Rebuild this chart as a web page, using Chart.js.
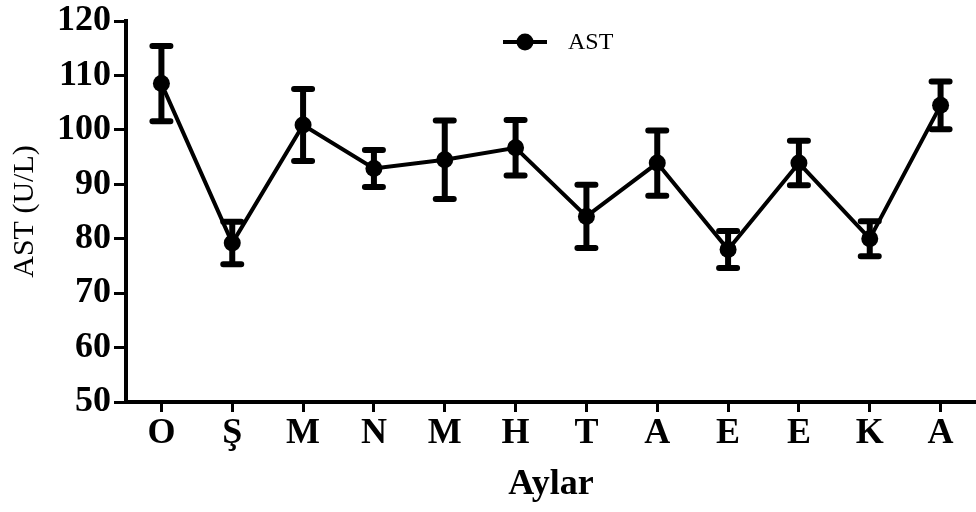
<!DOCTYPE html>
<html>
<head>
<meta charset="utf-8">
<script src="https://cdn.jsdelivr.net/npm/chart.js@4"></script>
<style>
  body { margin: 0; background: #fff; }
  #wrap { width: 976px; height: 512px; position: relative; }
</style>
</head>
<body>
<div id="wrap"><canvas id="astChart"></canvas></div>
<script>
// Months (Turkish initials) and AST values
const months = ['O', 'Ş', 'M', 'N', 'M', 'H', 'T', 'A', 'E', 'E', 'K', 'A'];
const astMean = [108.5, 79.2, 100.9, 92.9, 94.5, 96.7, 84.1, 93.9, 78.0, 93.9, 80.0, 104.5];
const astErr = [6.9, 3.9, 6.6, 3.4, 7.2, 5.1, 5.8, 6.0, 3.4, 4.1, 3.2, 4.4];
const yTicks = [50, 60, 70, 80, 90, 100, 110, 120];

const serif = "'Liberation Serif', 'Times New Roman', serif";

// draws the error bars using the chart scales
const errorBars = {
  id: 'errorBars',
  afterDatasetsDraw(chart) {
    const ctx = chart.ctx;
    const x = chart.scales.x;
    const y = chart.scales.y;
    ctx.save();
    ctx.strokeStyle = '#000';
    ctx.lineWidth = 6;
    ctx.lineCap = 'round';
    astMean.forEach((m, i) => {
      const px = x.getPixelForValue(i);
      const top = y.getPixelForValue(m + astErr[i]);
      const bot = y.getPixelForValue(m - astErr[i]);
      ctx.beginPath();
      ctx.moveTo(px, top);
      ctx.lineTo(px, bot);
      ctx.moveTo(px - 9, top);
      ctx.lineTo(px + 9, top);
      ctx.moveTo(px - 9, bot);
      ctx.lineTo(px + 9, bot);
      ctx.stroke();
    });
    ctx.restore();
  }
};

// legend in the top middle of the plot: line, dot, label
const topLegend = {
  id: 'topLegend',
  afterDraw(chart) {
    const ctx = chart.ctx;
    const ds = chart.data.datasets[0];
    const lx = 503, ly = 42;
    ctx.save();
    ctx.strokeStyle = ds.borderColor;
    ctx.lineWidth = ds.borderWidth;
    ctx.beginPath();
    ctx.moveTo(lx, ly);
    ctx.lineTo(lx + 44, ly);
    ctx.stroke();
    ctx.fillStyle = ds.pointBackgroundColor;
    ctx.beginPath();
    ctx.arc(lx + 22, ly, ds.pointRadius, 0, Math.PI * 2);
    ctx.fill();
    ctx.font = '24px ' + serif;
    ctx.textBaseline = 'middle';
    ctx.fillText(ds.label, lx + 65, ly + 1);
    ctx.restore();
  }
};

new Chart(document.getElementById('astChart'), {
  type: 'line',
  data: {
    labels: months,
    datasets: [{
      label: 'AST',
      data: astMean,
      borderColor: '#000',
      backgroundColor: '#000',
      borderWidth: 4,
      pointRadius: 8.5,
      pointBorderWidth: 0,
      pointBackgroundColor: '#000',
      tension: 0
    }]
  },
  options: {
    responsive: true,
    maintainAspectRatio: false,
    animation: false,
    layout: { autoPadding: false, padding: { top: 20, right: 0, left: 0, bottom: 0 } },
    plugins: {
      tooltip: { enabled: false },
      legend: { display: false }
    },
    scales: {
      x: {
        offset: true,
        afterFit: s => { s.height = 110; },
        grid: {
          display: true,
          drawOnChartArea: false,
          drawTicks: true,
          tickLength: 10,
          tickWidth: 3,
          color: '#000'
        },
        border: { display: true, color: '#000', width: 4 },
        ticks: {
          color: '#000',
          padding: 0,
          font: { family: serif, size: 36, weight: 'bold' }
        },
        title: {
          display: true,
          text: 'Aylar',
          color: '#000',
          padding: { top: 0, bottom: 6 },
          font: { family: serif, size: 36, weight: 'bold' }
        }
      },
      y: {
        min: 50,
        max: 120,
        afterFit: s => { s.width = 126; },
        afterBuildTicks: s => { s.ticks = yTicks.map(v => ({ value: v })); },
        grid: {
          display: true,
          drawOnChartArea: false,
          drawTicks: true,
          tickLength: 12,
          tickWidth: 3,
          color: '#000'
        },
        border: { display: true, color: '#000', width: 4 },
        ticks: {
          color: '#000',
          padding: 3,
          font: { family: serif, size: 36, weight: 'bold', lineHeight: 1 }
        },
        title: {
          display: true,
          text: 'AST (U/L)',
          color: '#000',
          padding: { top: 7, bottom: 0 },
          font: { family: serif, size: 30 }
        }
      }
    }
  },
  plugins: [errorBars, topLegend]
});
</script>
</body>
</html>
